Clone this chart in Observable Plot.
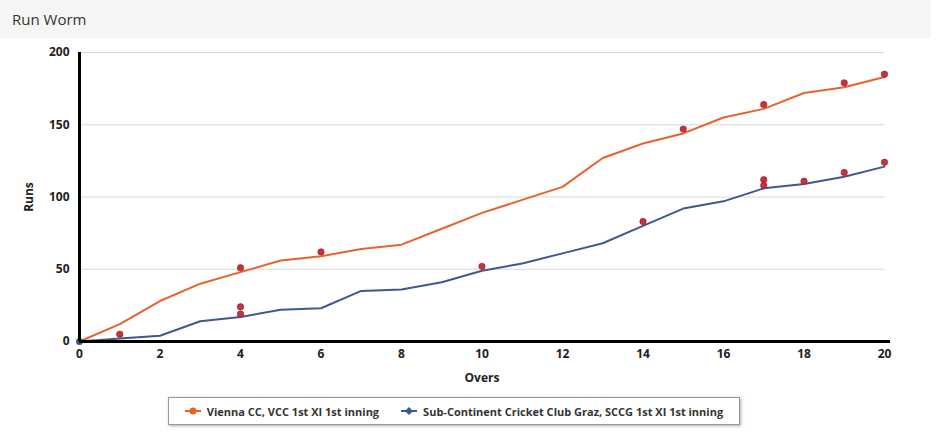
<!DOCTYPE html>
<html><head><meta charset="utf-8">
<script src="https://cdn.jsdelivr.net/npm/d3@7"></script>
<script src="https://cdn.jsdelivr.net/npm/@observablehq/plot@0.6"></script>
<style>
body{margin:0;background:#fff;font-family:"Open Sans",sans-serif;}
#title{height:38px;background:#f5f5f5;margin:0 20px 0 0;line-height:38px;padding-left:12px;font-size:15px;color:#333;}
#chart{position:relative;height:350px;margin-top:2px}
#legend{position:absolute;top:397px;left:168px;width:570px;height:26px;border:1px solid #999;box-shadow:1px 1px 3px #aaa;display:flex;align-items:center;justify-content:center;gap:22px;font-size:11px;font-weight:bold;color:#333;background:#fff}
.it{display:flex;align-items:center;gap:6px}
</style></head><body>
<div id="title">Run Worm</div>
<div id="chart"></div>
<div id="legend">
<div class="it"><svg width="16" height="10"><line x1="0" y1="5" x2="16" y2="5" stroke="#e8622c" stroke-width="2"/><circle cx="8" cy="5" r="3.5" fill="#e8622c"/></svg>Vienna CC, VCC 1st XI 1st inning</div>
<div class="it"><svg width="16" height="10"><line x1="0" y1="5" x2="16" y2="5" stroke="#3d5a8a" stroke-width="2"/><path d="M8 1L12 5L8 9L4 5Z" fill="#3d5a8a"/></svg>Sub-Continent Cricket Club Graz, SCCG 1st XI 1st inning</div>
</div>
<script>
const overs = [0,1,2,3,4,5,6,7,8,9,10,11,12,13,14,15,16,17,18,19,20];
const vienna = [0,12,28,40,48,56,59,64,67,78,89,98,107,127,137,144,155,161,172,176,183];
const sccg = [0,2,4,14,17,22,23,35,36,41,49,54,61,68,80,92,97,106,109,114,121];
const wicketOvers = [1,4,4,4,6,10,14,15,17,17,17,18,19,19,20,20];
const wicketRuns = [5,51,24,19,62,52,83,147,164,112,108,111,179,117,185,124];
const yTicks = [0,50,100,150,200];
const xTicks = [0,2,4,6,8,10,12,14,16,18,20];

const vData = overs.map((o,i)=>({o, r:vienna[i]}));
const sData = overs.map((o,i)=>({o, r:sccg[i]}));
const wData = wicketOvers.map((o,i)=>({o, r:wicketRuns[i]}));

const chart = Plot.plot({
  width:951, height:350,
  marginLeft:79, marginRight:67, marginTop:12, marginBottom:49,
  style:{fontFamily:"Open Sans, sans-serif", fontSize:"12px", fontWeight:"bold", color:"#222"},
  x:{domain:[0,20], ticks:xTicks, tickSize:0, tickPadding:8, label:"Overs", labelAnchor:"center", labelOffset:40, labelArrow:"none"},
  y:{domain:[0,200], ticks:yTicks, tickSize:0, tickPadding:10, label:"Runs", labelAnchor:"center", labelOffset:55, labelArrow:"none"},
  marks:[
    Plot.ruleY(yTicks.slice(1), {stroke:"#d8d8d8", strokeWidth:1}),
    Plot.line(sData, {x:"o", y:"r", stroke:"#3d5a8a", strokeWidth:2}),
    Plot.line(vData, {x:"o", y:"r", stroke:"#e8622c", strokeWidth:2}),
    Plot.dot(wData, {x:"o", y:"r", r:3.2, fill:"#c8323c", stroke:"#8a1a22", strokeWidth:0.6}),
    Plot.dot([{o:0,r:0}], {x:"o", y:"r", r:3.5, fill:"#3d5a8a"}),
    Plot.ruleX([0], {y1:0, y2:200, stroke:"#000", strokeWidth:3}),
    Plot.ruleY([0], {x1:0, x2:20.15, stroke:"#000", strokeWidth:3})
  ]
});
document.getElementById("chart").appendChild(chart);
</script>
</body></html>
